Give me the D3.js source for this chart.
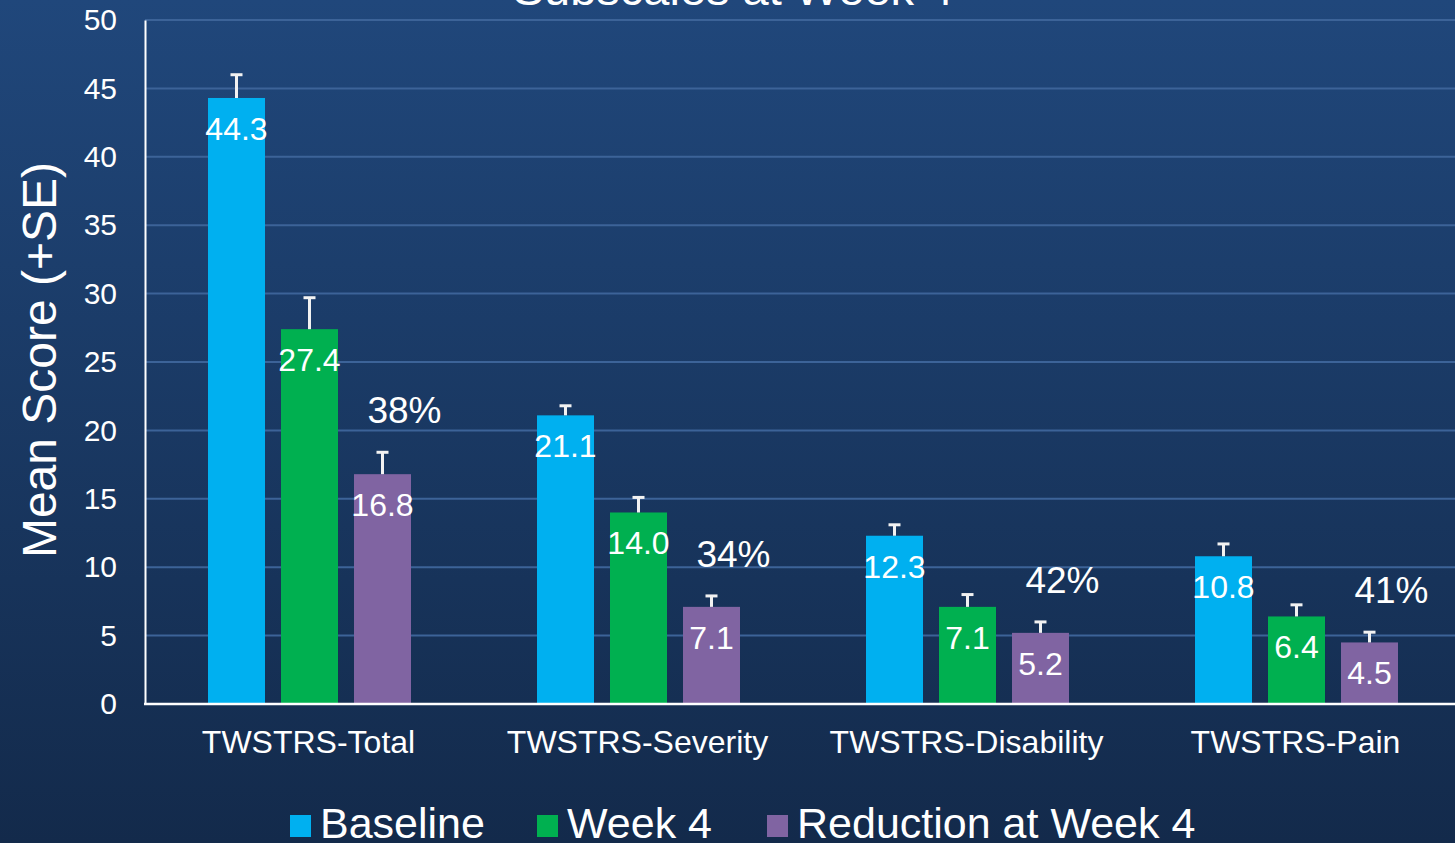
<!DOCTYPE html>
<html>
<head>
<meta charset="utf-8">
<script src="https://cdn.jsdelivr.net/npm/d3@7"></script>
<style>
  html, body { margin: 0; padding: 0; background: #1a3862; }
  svg { display: block; }
  text { font-family: "Liberation Sans", Arial, sans-serif; fill: #ffffff; }
</style>
</head>
<body>
<svg id="chart" width="1455" height="843"></svg>
<script>
// Subscale categories and series
const categories = ["TWSTRS-Total", "TWSTRS-Severity", "TWSTRS-Disability", "TWSTRS-Pain"];
const seriesNames = ["Baseline", "Week 4", "Reduction at Week 4"];
const seriesColors = ["#00b0f0", "#00b050", "#8064a2"];
const baseline = [44.3, 21.1, 12.3, 10.8];
const week4 = [27.4, 14.0, 7.1, 6.4];
const reduction = [16.8, 7.1, 5.2, 4.5];
const baselineSE = [1.7, 0.7, 0.8, 0.9];
const week4SE = [2.3, 1.1, 0.9, 0.85];
const reductionSE = [1.6, 0.8, 0.8, 0.75];
const percentLabels = ["38%", "34%", "42%", "41%"];
const yTicks = [0, 5, 10, 15, 20, 25, 30, 35, 40, 45, 50];

const values = [baseline, week4, reduction];
const errors = [baselineSE, week4SE, reductionSE];

const W = 1455, H = 843;
const svg = d3.select("#chart");

// Background gradient
const defs = svg.append("defs");
const grad = defs.append("linearGradient").attr("id", "bg").attr("x1", 0).attr("y1", 0).attr("x2", 0).attr("y2", 1);
grad.append("stop").attr("offset", "0%").attr("stop-color", "#20477b");
grad.append("stop").attr("offset", "100%").attr("stop-color", "#132a4b");
svg.append("rect").attr("width", W).attr("height", H).attr("fill", "url(#bg)");

const plot = { left: 145, right: 1461, top: 20, bottom: 704 };

const x = d3.scaleBand().domain(categories).range([plot.left, plot.right]).paddingInner(0).paddingOuter(0);
const inner = d3.scaleBand().domain(d3.range(3)).range([0, x.bandwidth()]).paddingInner(0.219).paddingOuter(0.863);
const y = d3.scaleLinear().domain([0, 50]).range([plot.bottom, plot.top]);

// Title (runs off the top of the canvas)
svg.append("text").attr("x", 733).attr("y", 5).attr("text-anchor", "middle")
  .attr("font-size", 47).text("Subscales at Week 4");

// Gridlines
svg.append("g").selectAll("line").data(yTicks.filter(d => d > 0)).join("line")
  .attr("x1", plot.left).attr("x2", W)
  .attr("y1", d => y(d)).attr("y2", d => y(d))
  .attr("stroke", "#3c6398").attr("stroke-width", 2);

// Y axis
const yAxis = svg.append("g").attr("transform", `translate(${plot.left},0)`)
  .call(d3.axisLeft(y).tickValues(yTicks).tickSize(0).tickPadding(28));
yAxis.select(".domain").attr("stroke", "#ffffff").attr("stroke-width", 2);
yAxis.selectAll("text").attr("font-size", 30).attr("fill", "#ffffff").attr("font-family", "Liberation Sans, Arial, sans-serif");

// Bars
const groups = svg.append("g").selectAll("g").data(categories).join("g")
  .attr("transform", d => `translate(${x(d)},0)`);

groups.each(function(cat, ci) {
  const g = d3.select(this);
  for (let s = 0; s < 3; s++) {
    const v = values[s][ci];
    const e = errors[s][ci];
    const bx = inner(s);
    const bw = inner.bandwidth();
    g.append("rect").attr("x", bx).attr("width", bw)
      .attr("y", y(v)).attr("height", y(0) - y(v)).attr("fill", seriesColors[s]);
    // error bar
    const cx = bx + bw / 2;
    g.append("line").attr("x1", cx).attr("x2", cx).attr("y1", y(v)).attr("y2", y(v + e))
      .attr("stroke", "#f2f2f2").attr("stroke-width", 3);
    g.append("line").attr("x1", cx - 6).attr("x2", cx + 6).attr("y1", y(v + e)).attr("y2", y(v + e))
      .attr("stroke", "#f2f2f2").attr("stroke-width", 3);
    // value label
    g.append("text").attr("x", cx).attr("y", y(v) + 42).attr("text-anchor", "middle")
      .attr("font-size", 32).text(v.toFixed(1));
    // percentage reduction above the reduction bar
    if (s === 2) {
      g.append("text").attr("x", cx + 22).attr("y", y(v + e) - 29).attr("text-anchor", "middle")
        .attr("font-size", 37).text(percentLabels[ci]);
    }
  }
});

// X axis
svg.append("line").attr("x1", plot.left - 1).attr("x2", W).attr("y1", plot.bottom).attr("y2", plot.bottom)
  .attr("stroke", "#ffffff").attr("stroke-width", 2.5);
svg.append("g").selectAll("text").data(categories).join("text")
  .attr("x", d => x(d) + x.bandwidth() / 2 - 1).attr("y", 753).attr("text-anchor", "middle")
  .attr("font-size", 32).text(d => d);

// Y axis title
svg.append("text").attr("transform", "translate(56,360) rotate(-90)").attr("text-anchor", "middle")
  .attr("font-size", 48).text("Mean Score (+SE)");

// Legend
const legendX = [290, 537, 767];
const lg = svg.append("g").selectAll("g").data(seriesNames).join("g")
  .attr("transform", (d, i) => `translate(${legendX[i]},0)`);
lg.append("rect").attr("x", 0).attr("y", 815).attr("width", 21).attr("height", 22)
  .attr("fill", (d, i) => seriesColors[i]);
lg.append("text").attr("x", 30).attr("y", 838).attr("font-size", 43).text(d => d);
</script>
</body>
</html>
